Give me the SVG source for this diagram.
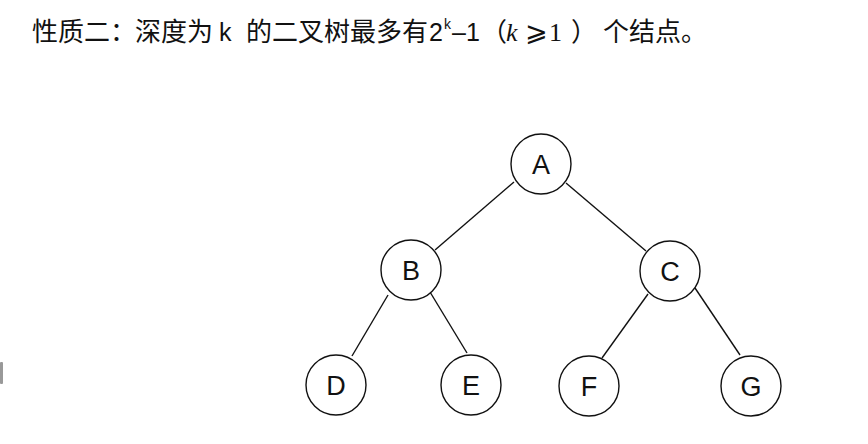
<svg xmlns="http://www.w3.org/2000/svg" width="868" height="444" viewBox="0 0 868 444">
<style>
.t{font-family:"Liberation Sans","Noto Sans CJK SC",sans-serif;font-size:26px;fill:#111}
.m{font-family:"Liberation Serif","DejaVu Serif",serif;font-size:26px;fill:#111}
.n circle{fill:#fff;stroke:#111;stroke-width:1.4}
.n text{font-family:"Liberation Sans",Arial,sans-serif;font-size:27px;fill:#111;text-anchor:middle}
#edges line{stroke:#111;stroke-width:1.4}
</style>
<rect width="868" height="444" fill="#fff"/>
<rect x="0" y="362" width="3" height="22" rx="1" fill="#999"/>
<text class="t" y="41"><tspan x="32">性质二：</tspan><tspan x="135">深度为</tspan><tspan x="219" font-size="25">k</tspan><tspan x="246">的二叉树最多有</tspan><tspan x="429" font-size="25">2</tspan><tspan x="444" y="29" font-size="14">k</tspan><tspan x="452" y="41" font-size="25">–1</tspan></text>
<text class="t" x="481" y="41">（</text>
<text class="m" y="41"><tspan x="506" font-style="italic">k</tspan><tspan x="525" font-family="DejaVu Sans" font-size="27">⩾</tspan><tspan x="549">1</tspan></text>
<text class="t" y="41"><tspan x="571">）</tspan><tspan x="603">个结点。</tspan></text>
<g id="edges">
<line x1="514" y1="182" x2="435" y2="250"/>
<line x1="566" y1="183" x2="646" y2="251"/>
<line x1="388" y1="295" x2="352" y2="356"/>
<line x1="430" y1="292" x2="467" y2="353"/>
<line x1="648" y1="294" x2="602" y2="358"/>
<line x1="695" y1="288" x2="740" y2="355"/>
</g>
<g id="A" class="n"><circle cx="541" cy="164" r="30"/><text x="541" y="174">A</text></g>
<g id="B" class="n"><circle cx="411" cy="270" r="30"/><text x="411" y="280">B</text></g>
<g id="C" class="n"><circle cx="670" cy="271" r="30"/><text x="670" y="281">C</text></g>
<g id="D" class="n"><circle cx="336" cy="385" r="30"/><text x="336" y="395">D</text></g>
<g id="E" class="n"><circle cx="471" cy="385" r="30"/><text x="471" y="395">E</text></g>
<g id="F" class="n"><circle cx="589" cy="386" r="30"/><text x="589" y="396">F</text></g>
<g id="G" class="n"><circle cx="751" cy="386" r="30"/><text x="751" y="396">G</text></g>
</svg>
